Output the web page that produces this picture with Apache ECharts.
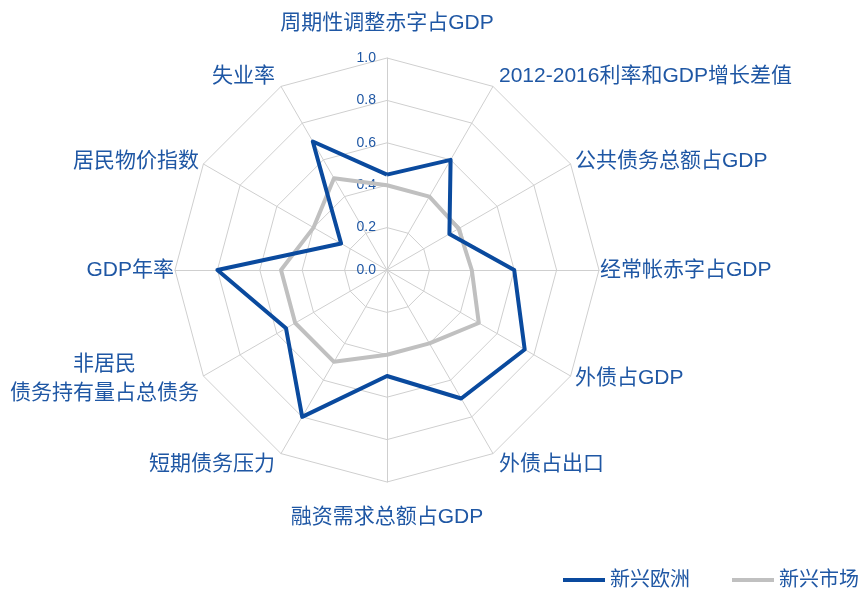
<!DOCTYPE html>
<html>
<head>
<meta charset="utf-8">
<script src="https://cdn.jsdelivr.net/npm/echarts@6/dist/echarts.min.js"></script>
<style>
  html, body { margin: 0; padding: 0; background: #ffffff; }
  #main { width: 862px; height: 591px; }
</style>
</head>
<body>
<div id="main"></div>
<script>
// indicators listed clockwise starting from the top
var indicators = ['周期性调整赤字占GDP', '2012-2016利率和GDP增长差值', '公共债务总额占GDP', '经常帐赤字占GDP',
  '外债占GDP', '外债占出口', '融资需求总额占GDP', '短期债务压力',
  '非居民\n债务持有量占总债务', 'GDP年率', '居民物价指数', '失业率'];
var seriesNames = ['新兴欧洲', '新兴市场'];
var europe = [0.45, 0.60, 0.34, 0.60, 0.75, 0.70, 0.50, 0.80, 0.55, 0.80, 0.25, 0.70];
var market = [0.40, 0.40, 0.39, 0.40, 0.50, 0.40, 0.40, 0.50, 0.50, 0.50, 0.40, 0.50];

// distance of each name from the outer ring, same order as indicators
var nameGaps = [20, 12, 5, 1, 5, 12, 21, 12, 5, 1, 5, 12];

var textBlue = '#1f57a4';
var lineBlue = '#0a4a9e';
var lineGray = '#c0c0c0';
var font = "'Liberation Sans', 'Noto Sans CJK SC', sans-serif";

var myChart = echarts.init(document.getElementById('main'));

// echarts radar goes counter-clockwise, so keep the first axis and reverse the rest
function clockwise(arr) {
  return [arr[0]].concat(arr.slice(1).reverse());
}

var gaps = clockwise(nameGaps);
var indicatorOpts = clockwise(indicators).map(function (name, i) {
  var o = { name: name, min: 0, max: 1, nameGap: gaps[i] };
  if (i === 0) o.axisLabel = { show: true }; // tick labels only on the top axis
  return o;
});

function radarSeries(name, values, color) {
  return {
    name: name,
    type: 'radar',
    symbol: 'none',
    lineStyle: { color: color, width: 4 },
    itemStyle: { color: color },
    data: [{ name: name, value: clockwise(values) }]
  };
}

var option = {
  animation: false,
  legend: {
    data: seriesNames,
    right: -2,
    top: 565,
    icon: 'rect',
    itemWidth: 42,
    itemHeight: 4,
    itemGap: 42,
    textStyle: { color: textBlue, fontSize: 20, fontFamily: font }
  },
  radar: {
    center: [387, 270],
    radius: 212,
    startAngle: 90,
    shape: 'polygon',
    splitNumber: 5,
    indicator: indicatorOpts,
    axisName: {
      color: textBlue,
      fontSize: 21,
      fontFamily: font,
      formatter: function (name) {
        return name.split('\n').map(function (s) { return '{n|' + s + '}'; }).join('\n');
      },
      rich: {
        n: { align: 'center', color: textBlue, fontSize: 21, fontFamily: font, lineHeight: 29 }
      }
    },
    axisLine: { lineStyle: { color: '#cfcfcf', width: 1 } },
    splitLine: { lineStyle: { color: '#cfcfcf', width: 1 } },
    splitArea: { show: false },
    axisTick: { show: false },
    axisLabel: {
      show: false,
      color: textBlue,
      fontSize: 14,
      fontFamily: font,
      margin: 11,
      formatter: function (v) { return v.toFixed(1); }
    }
  },
  series: [
    radarSeries(seriesNames[1], market, lineGray),
    radarSeries(seriesNames[0], europe, lineBlue)
  ]
};

option && myChart.setOption(option);
</script>
</body>
</html>
